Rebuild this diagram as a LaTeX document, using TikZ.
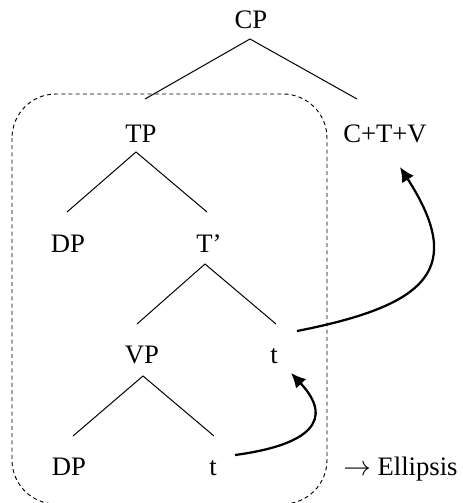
\documentclass[tikz,border=0pt]{standalone}
\usepackage{fontspec}
\setmainfont{Liberation Serif}
\usetikzlibrary{arrows.meta}
\begin{document}
\begin{tikzpicture}[x=0.75pt,y=-0.75pt,
  lbl/.style={anchor=base,inner sep=0pt,font=\fontsize{20}{24}\selectfont},
  branch/.style={line width=0.75pt},
  move/.style={line width=1.7pt,-{Latex[length=11pt,width=10.5pt]}},
  elidedbox/.style={dash pattern=on 3pt off 2.4pt,line width=0.7pt,rounded corners=33pt}]
\useasboundingbox (0,0) rectangle (462,503);

% labels of the tree
\node[lbl] (cp)   at (251,29)  {CP};
\node[lbl] (tp)   at (141,142) {TP};
\node[lbl] (ctv)  at (385,142) {C+T+V};
\node[lbl] (dp1)  at (68,252)  {DP};
\node[lbl] (tbar) at (209,252) {T’};
\node[lbl] (vp)   at (142,363) {VP};
\node[lbl] (tt)   at (274,363) {t};
\node[lbl] (dp2)  at (69,475)  {DP};
\node[lbl] (vt)   at (213,475) {t};
\node[lbl,anchor=base west] (ell) at (343,475) {$\rightarrow$ Ellipsis};

% branch end points
\coordinate (cpTop)  at (250,39);
\coordinate (cpL)    at (145,99);
\coordinate (cpR)    at (357,99);
\coordinate (tpTop)  at (136,152);
\coordinate (tpL)    at (67,212);
\coordinate (tpR)    at (207,212);
\coordinate (tbTop)  at (205,264);
\coordinate (tbL)    at (137,324);
\coordinate (tbR)    at (276,324);
\coordinate (vpTop)  at (143,376);
\coordinate (vpL)    at (73,436);
\coordinate (vpR)    at (214,436);

\draw[branch] (cpL) -- (cpTop) -- (cpR);
\draw[branch] (tpL) -- (tpTop) -- (tpR);
\draw[branch] (tbL) -- (tbTop) -- (tbR);
\draw[branch] (vpL) -- (vpTop) -- (vpR);

% elided constituent
\draw[elidedbox] (12,94) rectangle (327,504);

% head movement
\coordinate (vtOut) at (235,455);
\coordinate (ttIn)  at (291,373);
\coordinate (ttOut) at (297,331);
\coordinate (ctvIn) at (400,167);
\draw[move] (vtOut) .. controls (310,445) and (335,420) .. (ttIn);
\draw[move] (ttOut) .. controls (430,305) and (465,268) .. (ctvIn);
\end{tikzpicture}
\end{document}
